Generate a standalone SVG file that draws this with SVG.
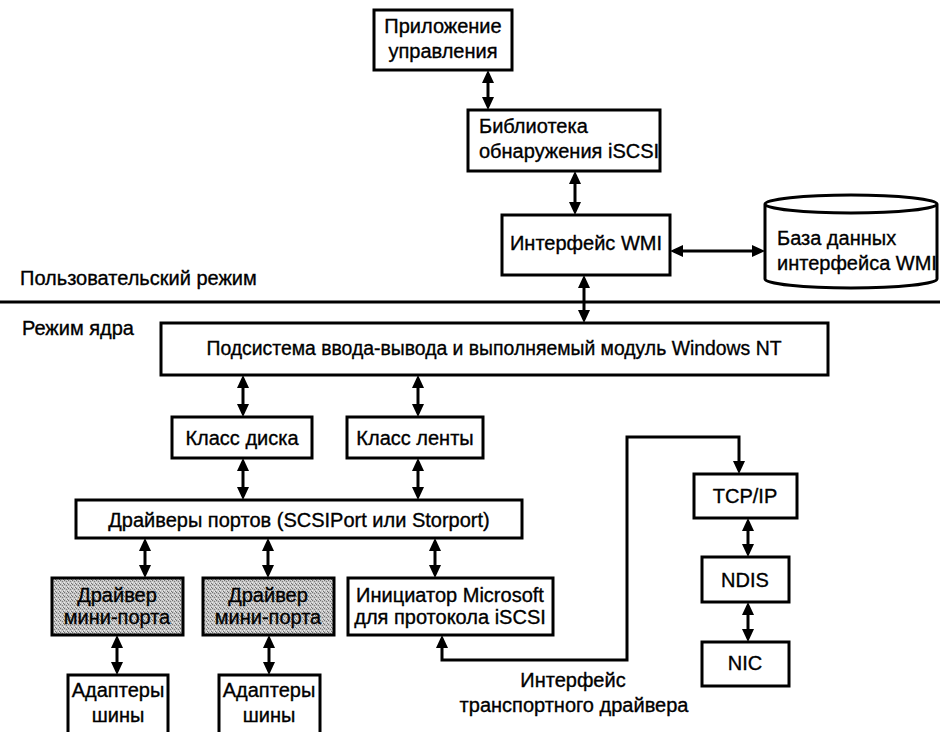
<svg xmlns="http://www.w3.org/2000/svg" width="940" height="732" viewBox="0 0 940 732">
  <style>
    .box { fill: #fff; stroke: #000; stroke-width: 3; }
    .shaded { fill: url(#stipple); stroke: #000; stroke-width: 3; }
    .lbl { font-family: "Liberation Sans", Arial, sans-serif; font-size: 20px; fill: #000; stroke: #000; stroke-width: 0.35; }
    .c { text-anchor: middle; }
    .conn { fill: none; stroke: #000; stroke-width: 3; marker-start: url(#head); marker-end: url(#head); }
  </style>
  <defs>
    <marker id="head" viewBox="0 0 13 12" refX="9" refY="6" markerWidth="13" markerHeight="12" markerUnits="userSpaceOnUse" orient="auto-start-reverse">
      <path d="M0,0 L13,6 L0,12 z" fill="#000"/>
    </marker>
    <!-- grainy halftone used for the miniport driver boxes -->
    <pattern id="stipple" width="4" height="4" patternUnits="userSpaceOnUse">
      <rect width="4" height="4" fill="#c2c2c2"/>
      <rect x="0" y="0" width="1" height="1" fill="#707070"/>
      <rect x="2" y="1" width="1" height="1" fill="#7c7c7c"/>
      <rect x="3" y="3" width="1" height="1" fill="#707070"/>
      <rect x="2" y="3" width="1" height="1" fill="#ececec"/>
      <rect x="0" y="2" width="1" height="1" fill="#ececec"/>
      <rect x="3" y="0" width="1" height="1" fill="#dcdcdc"/>
    </pattern>
  </defs>

  <rect width="940" height="732" fill="#fff"/>

  <!-- user / kernel mode boundary -->
  <line x1="0" y1="302" x2="940" y2="302" stroke="#000" stroke-width="3"/>
  <text class="lbl" x="20" y="285">Пользовательский режим</text>
  <text class="lbl" x="22" y="335">Режим ядра</text>

  <g id="mgmt-app">
    <rect class="box" x="374" y="10" width="138" height="60"/>
    <text class="lbl c" x="443" y="33">Приложение</text>
    <text class="lbl c" x="443" y="58">управления</text>
  </g>

  <g id="discovery-lib">
    <rect class="box" x="468" y="110" width="192" height="61"/>
    <text class="lbl" x="479" y="133">Библиотека</text>
    <text class="lbl" x="479" y="158">обнаружения iSCSI</text>
  </g>

  <g id="wmi">
    <rect class="box" x="502" y="215" width="168" height="60"/>
    <text class="lbl c" x="586" y="250">Интерфейс WMI</text>
  </g>

  <g id="wmi-db">
    <path class="box" d="M765,204 V279 A86,9 0 0 0 937,279 V204 A86,9 0 0 0 765,204 A86,9 0 0 0 937,204"/>
    <text class="lbl" x="777" y="245">База данных</text>
    <text class="lbl" x="777" y="270">интерфейса WMI</text>
  </g>

  <g id="io-subsystem">
    <rect class="box" x="161" y="323" width="667" height="52"/>
    <text class="lbl c" x="494" y="355" textLength="575" lengthAdjust="spacingAndGlyphs">Подсистема ввода-вывода и выполняемый модуль Windows NT</text>
  </g>

  <g id="disk-class">
    <rect class="box" x="172" y="417" width="140" height="41"/>
    <text class="lbl c" x="242" y="445">Класс диска</text>
  </g>

  <g id="tape-class">
    <rect class="box" x="347" y="417" width="136" height="41"/>
    <text class="lbl c" x="415" y="445">Класс ленты</text>
  </g>

  <g id="port-drivers">
    <rect class="box" x="76" y="500" width="446" height="38"/>
    <text class="lbl c" x="299" y="527">Драйверы портов (SCSIPort или Storport)</text>
  </g>

  <g id="miniport-1">
    <rect class="shaded" x="52" y="578" width="131" height="57"/>
    <text class="lbl c" x="117" y="602">Драйвер</text>
    <text class="lbl c" x="117" y="624">мини-порта</text>
  </g>

  <g id="miniport-2">
    <rect class="shaded" x="203" y="578" width="131" height="57"/>
    <text class="lbl c" x="268" y="602">Драйвер</text>
    <text class="lbl c" x="268" y="624">мини-порта</text>
  </g>

  <g id="iscsi-initiator">
    <rect class="box" x="348" y="578" width="205" height="57"/>
    <text class="lbl c" x="450" y="602">Инициатор Microsoft</text>
    <text class="lbl c" x="450" y="624">для протокола iSCSI</text>
  </g>

  <g id="bus-adapter-1">
    <rect class="box" x="68" y="675" width="100" height="62"/>
    <text class="lbl c" x="118" y="697">Адаптеры</text>
    <text class="lbl c" x="118" y="722">шины</text>
  </g>

  <g id="bus-adapter-2">
    <rect class="box" x="219" y="675" width="101" height="62"/>
    <text class="lbl c" x="269" y="697">Адаптеры</text>
    <text class="lbl c" x="269" y="722">шины</text>
  </g>

  <g id="tcpip">
    <rect class="box" x="694" y="474" width="103" height="44"/>
    <text class="lbl c" x="745" y="503">TCP/IP</text>
  </g>

  <g id="ndis">
    <rect class="box" x="702" y="557" width="87" height="45"/>
    <text class="lbl c" x="745" y="587">NDIS</text>
  </g>

  <g id="nic">
    <rect class="box" x="702" y="642" width="87" height="44"/>
    <text class="lbl c" x="745" y="670">NIC</text>
  </g>

  <g id="tdi-label">
    <text class="lbl c" x="573" y="687">Интерфейс</text>
    <text class="lbl c" x="574" y="712">транспортного драйвера</text>
  </g>

  <g id="connectors">
    <line class="conn" x1="488" y1="74" x2="488" y2="106"/>
    <line class="conn" x1="575" y1="175" x2="575" y2="211"/>
    <line class="conn" x1="674" y1="251" x2="761" y2="251"/>
    <line class="conn" x1="584" y1="279" x2="584" y2="319"/>
    <line class="conn" x1="243" y1="379" x2="243" y2="413"/>
    <line class="conn" x1="418" y1="379" x2="418" y2="413"/>
    <line class="conn" x1="243" y1="462" x2="243" y2="496"/>
    <line class="conn" x1="418" y1="462" x2="418" y2="496"/>
    <line class="conn" x1="145" y1="542" x2="145" y2="574"/>
    <line class="conn" x1="268" y1="542" x2="268" y2="574"/>
    <line class="conn" x1="435" y1="542" x2="435" y2="574"/>
    <line class="conn" x1="117" y1="639" x2="117" y2="671"/>
    <line class="conn" x1="269" y1="639" x2="269" y2="671"/>
    <line class="conn" x1="748" y1="522" x2="748" y2="553"/>
    <line class="conn" x1="748" y1="606" x2="748" y2="638"/>
    <path class="conn" d="M739,470 V437 H627 V660 H442 V639"/>
  </g>
</svg>
